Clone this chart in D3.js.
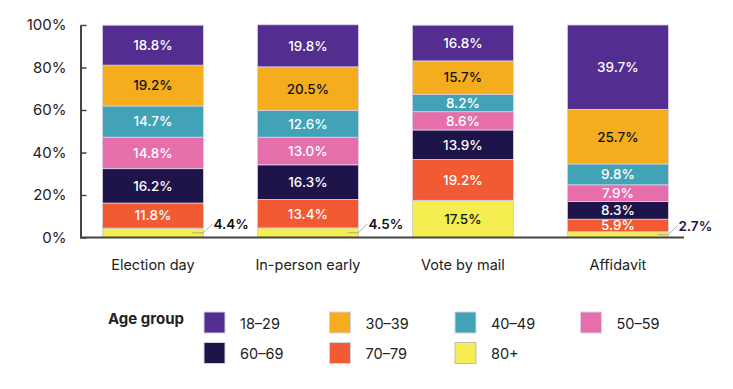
<!DOCTYPE html>
<html>
<head>
<meta charset="utf-8">
<script src="https://cdn.jsdelivr.net/npm/d3@7"></script>
<style>
  html, body { margin: 0; padding: 0; background: #fff; }
  svg { display: block; font-family: Inter, "Noto Sans", sans-serif; }
</style>
</head>
<body>
<svg id="chart" width="733" height="389"></svg>
<script>
"use strict";

// categories along the x axis
var categories = ["Election day", "In-person early", "Vote by mail", "Affidavit"];

// age groups, bottom of the stack first
var groups = ["80+", "70\u201379", "60\u201369", "50\u201359", "40\u201349", "30\u201339", "18\u201329"];

// share of each age group (%) per category, same order as groups
var electionDay = [4.4, 11.8, 16.2, 14.8, 14.7, 19.2, 18.8];
var inPersonEarly = [4.5, 13.4, 16.3, 13.0, 12.6, 20.5, 19.8];
var voteByMail = [17.5, 19.2, 13.9, 8.6, 8.2, 15.7, 16.8];
var affidavit = [2.7, 5.9, 8.3, 7.9, 9.8, 25.7, 39.7];

var yTicks = [0, 20, 40, 60, 80, 100];

// legend order (two rows of four)
var legendOrder = ["18\u201329", "30\u201339", "40\u201349", "50\u201359", "60\u201369", "70\u201379", "80+"];

var colors = {
	"18\u201329": "#532d8f",
	"30\u201339": "#f5ad1e",
	"40\u201349": "#42a3b7",
	"50\u201359": "#e66fab",
	"60\u201369": "#1f144a",
	"70\u201379": "#f15a33",
	"80+": "#f4ee50"
};
var darkText = { "30\u201339": true, "80+": true };

var series = [electionDay, inPersonEarly, voteByMail, affidavit];
var rows = categories.map(function(c, i) {
	var r = { category: c };
	groups.forEach(function(g, j) { r[g] = series[i][j]; });
	return r;
});

var svg = d3.select("#chart");

var x = d3.scaleBand()
	.domain(categories)
	.range([80, 684])
	.paddingInner(0.348)
	.paddingOuter(0.1225)
	.align(0.59);

var y = d3.scaleLinear()
	.domain([0, 100])
	.range([237.5, 25]);

var stacked = d3.stack().keys(groups)(rows);

// bars
var layer = svg.append("g").selectAll("g")
	.data(stacked)
	.join("g")
	.attr("fill", function(d) { return colors[d.key]; });

layer.selectAll("rect")
	.data(function(d) { return d.map(function(v) { v.key = d.key; return v; }); })
	.join("rect")
	.attr("x", function(d) { return x(d.data.category); })
	.attr("y", function(d) { return y(d[1]); })
	.attr("width", x.bandwidth())
	.attr("height", function(d) { return y(d[0]) - y(d[1]); })
	.attr("stroke", function(d) { return d.key === "80+" ? "#cfcfcf" : "#d6d2e4"; })
	.attr("stroke-width", 0.8);

// value labels
var labels = svg.append("g")
	.attr("font-size", 13.5)
	.attr("font-weight", 500);

stacked.forEach(function(s) {
	s.forEach(function(d) {
		var v = d[1] - d[0];
		var cx = x(d.data.category) + x.bandwidth() / 2;
		var cy = (y(d[0]) + y(d[1])) / 2;
		var txt = d3.format(".1f")(v) + "%";
		if (v >= 5) {
			labels.append("text")
				.attr("x", cx)
				.attr("y", cy)
				.attr("dy", "0.36em")
				.attr("text-anchor", "middle")
				.attr("fill", darkText[s.key] ? "#111" : "#fff")
				.text(txt);
		} else {
			var right = x(d.data.category) + x.bandwidth();
			labels.append("path")
				.attr("d", "M" + (right - 11) + "," + cy + "H" + right + "L" + (right + 9) + "," + (cy - 9))
				.attr("fill", "none")
				.attr("stroke", "#999")
				.attr("stroke-width", 0.8);
			labels.append("text")
				.attr("x", right + 10)
				.attr("y", cy - 4)
				.attr("font-weight", 600)
				.attr("fill", d.data.category === "Affidavit" ? "#1f144a" : "#111")
				.text(txt);
		}
	});
});

// y axis
var yAxis = svg.append("g")
	.attr("transform", "translate(80.5,0)")
	.call(d3.axisLeft(y).tickValues(yTicks).tickFormat(function(d) { return d + "%"; })
		.tickSizeInner(-6).tickSizeOuter(0).tickPadding(14));
yAxis.select(".domain").attr("stroke", "#444").attr("stroke-width", 2);
yAxis.selectAll(".tick line").attr("stroke", "#444").attr("stroke-width", 1.5);
yAxis.selectAll(".tick text")
	.attr("font-size", 15)
	.attr("fill", "#222")
	.style("font-family", "Inter, 'Noto Sans', sans-serif");

// x axis (baseline + category labels)
var xAxis = svg.append("g")
	.attr("transform", "translate(0," + y(0) + ")")
	.call(d3.axisBottom(x).tickSize(0).tickPadding(22));
xAxis.select(".domain")
	.attr("d", "M80,0H684")
	.attr("stroke", "#444")
	.attr("stroke-width", 2);
xAxis.selectAll(".tick text")
	.attr("font-size", 14.5)
	.attr("fill", "#222")
	.style("font-family", "Inter, 'Noto Sans', sans-serif");

// legend
var legend = svg.append("g");
legend.append("text")
	.attr("x", 108)
	.attr("y", 324)
	.attr("font-size", 15)
	.attr("font-weight", 700)
	.attr("fill", "#222")
	.text("Age group");

var item = legend.selectAll("g.item")
	.data(legendOrder)
	.join("g")
	.attr("class", "item")
	.attr("transform", function(d, i) {
		return "translate(" + (204 + (i % 4) * 125.5) + "," + (312 + Math.floor(i / 4) * 30.5) + ")";
	});
item.append("rect")
	.attr("width", 21)
	.attr("height", 21)
	.attr("fill", function(d) { return colors[d]; })
	.attr("stroke", function(d) { return d === "80+" ? "#bdbdbd" : "#d6d2e4"; })
	.attr("stroke-width", 1);
item.append("text")
	.attr("x", 36)
	.attr("y", 16.5)
	.attr("font-size", 14.5)
	.attr("fill", "#222")
	.text(function(d) { return d; });
</script>
</body>
</html>
